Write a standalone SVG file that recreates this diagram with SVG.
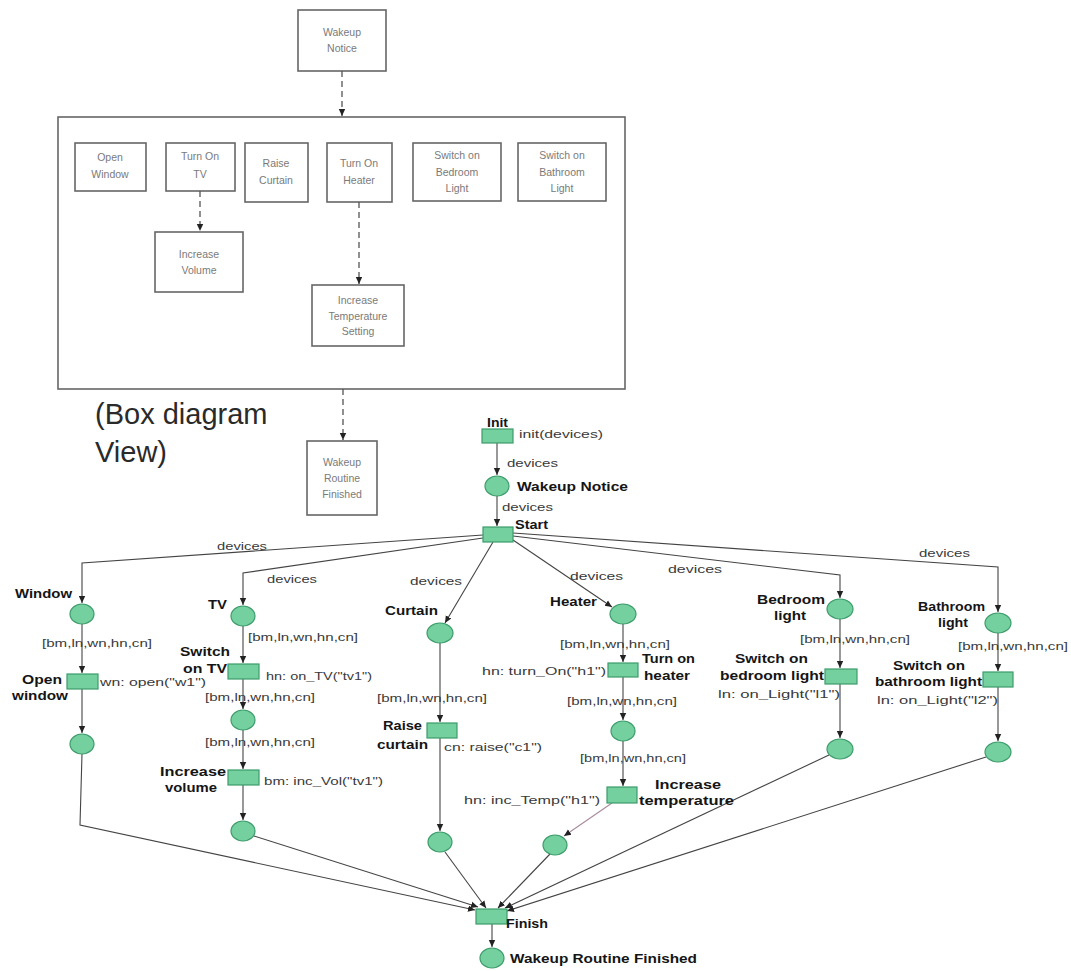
<svg xmlns="http://www.w3.org/2000/svg" width="1071" height="971" viewBox="0 0 1071 971">
<style>
.box{fill:#fff;stroke:#666;stroke-width:1.6}
.bt{font-family:"Liberation Sans",Arial,sans-serif;font-size:10.5px;fill:#7a7a7a;text-anchor:middle}
.dash{fill:none;stroke:#555;stroke-width:1.3;stroke-dasharray:6,4}
.arc{fill:none;stroke:#444;stroke-width:1.1}
.pl{fill:#74d09f;stroke:#3c9c6a;stroke-width:1.2}
.tr{fill:#74d09f;stroke:#3c9c6a;stroke-width:1.2}
.lb{font-family:"Liberation Sans",Arial,sans-serif;font-size:12px;font-weight:bold;fill:#151515}
.lt{font-family:"Liberation Sans",Arial,sans-serif;font-size:11.5px;fill:#3a3a3a}
.big{font-family:"Liberation Sans",Arial,sans-serif;font-size:29px;fill:#2a2a2a}
</style>
<defs>
<marker id="ah" markerUnits="userSpaceOnUse" markerWidth="8" markerHeight="8" refX="7" refY="4" orient="auto">
<path d="M0,0.8 L7,4 L0,7.2 Z" fill="#222"/>
</marker>
</defs>
<rect width="1071" height="971" fill="#fff"/>

<!-- Box diagram view -->
<g id="box-container"><rect class="box" x="58" y="117" width="567" height="272"/></g>
<g id="box-wakeup-notice"><rect class="box" x="298" y="10" width="88" height="61"/><text class="bt" x="342" y="36">Wakeup</text><text class="bt" x="342" y="52">Notice</text></g>
<g id="box-open-window"><rect class="box" x="75" y="143" width="71" height="48"/><text class="bt" x="110" y="161">Open</text><text class="bt" x="110" y="178">Window</text></g>
<g id="box-turn-on-tv"><rect class="box" x="166" y="143" width="69" height="48"/><text class="bt" x="200" y="160">Turn On</text><text class="bt" x="200" y="178">TV</text></g>
<g id="box-raise-curtain"><rect class="box" x="245" y="143" width="63" height="59"/><text class="bt" x="276" y="167">Raise</text><text class="bt" x="276" y="184">Curtain</text></g>
<g id="box-turn-on-heater"><rect class="box" x="327" y="143" width="65" height="59"/><text class="bt" x="359" y="167">Turn On</text><text class="bt" x="359" y="184">Heater</text></g>
<g id="box-bedroom-light"><rect class="box" x="413" y="143" width="88" height="58"/><text class="bt" x="457" y="159">Switch on</text><text class="bt" x="457" y="176">Bedroom</text><text class="bt" x="457" y="192">Light</text></g>
<g id="box-bathroom-light"><rect class="box" x="518" y="143" width="88" height="58"/><text class="bt" x="562" y="159">Switch on</text><text class="bt" x="562" y="176">Bathroom</text><text class="bt" x="562" y="192">Light</text></g>
<g id="box-increase-volume"><rect class="box" x="155" y="232" width="88" height="60"/><text class="bt" x="199" y="258">Increase</text><text class="bt" x="199" y="274">Volume</text></g>
<g id="box-increase-temp"><rect class="box" x="312" y="285" width="92" height="61"/><text class="bt" x="358" y="304">Increase</text><text class="bt" x="358" y="320">Temperature</text><text class="bt" x="358" y="335">Setting</text></g>
<g id="box-wakeup-finished"><rect class="box" x="307" y="441" width="70" height="74"/><text class="bt" x="342" y="466">Wakeup</text><text class="bt" x="342" y="482">Routine</text><text class="bt" x="342" y="498">Finished</text></g>
<g id="box-caption"><text class="big" x="95" y="424">(Box diagram</text><text class="big" x="95" y="462">View)</text></g>

<g id="box-connectors">
<path class="dash" d="M342,71 L342,116" marker-end="url(#ah)"/>
<path class="dash" d="M200,191 L200,231" marker-end="url(#ah)"/>
<path class="dash" d="M359,202 L359,284" marker-end="url(#ah)"/>
<path class="dash" d="M343,389 L343,440" marker-end="url(#ah)"/>
</g>

<!-- Petri net connectors -->
<g id="connectors">
<path class="arc" d="M497,443 L497,475" marker-end="url(#ah)"/>
<path class="arc" d="M497,496 L497,526" marker-end="url(#ah)"/>
<path class="arc" d="M483,535 L82,563 L82,603" marker-end="url(#ah)"/>
<path class="arc" d="M483,538 L243,573 L243,605" marker-end="url(#ah)"/>
<path class="arc" d="M493,542 L445,623" marker-end="url(#ah)"/>
<path class="arc" d="M513,540 L612,607" marker-end="url(#ah)"/>
<path class="arc" d="M513,536 L840,575 L840,598" marker-end="url(#ah)"/>
<path class="arc" d="M513,533 L998,567 L998,612" marker-end="url(#ah)"/>
<path class="arc" d="M82,624 L82,673" marker-end="url(#ah)"/>
<path class="arc" d="M82,689 L82,733" marker-end="url(#ah)"/>
<path class="arc" d="M82,754 L80,825 L475,910" marker-end="url(#ah)"/>
<path class="arc" d="M243,626 L243,663" marker-end="url(#ah)"/>
<path class="arc" d="M243,679 L243,709" marker-end="url(#ah)"/>
<path class="arc" d="M243,730 L243,769" marker-end="url(#ah)"/>
<path class="arc" d="M243,785 L243,820" marker-end="url(#ah)"/>
<path class="arc" d="M254,836 L478,907" marker-end="url(#ah)"/>
<path class="arc" d="M440,643 L440,722" marker-end="url(#ah)"/>
<path class="arc" d="M440,738 L440,831" marker-end="url(#ah)"/>
<path class="arc" d="M445,852 L486,908" marker-end="url(#ah)"/>
<path class="arc" d="M623,624 L623,662" marker-end="url(#ah)"/>
<path class="arc" d="M623,677 L623,720" marker-end="url(#ah)"/>
<path class="arc" d="M623,741 L623,786" marker-end="url(#ah)"/>
<path class="arc" d="M612,803 L564,836" style="stroke:#a88a9c" marker-end="url(#ah)"/>
<path class="arc" d="M550,854 L498,908" marker-end="url(#ah)"/>
<path class="arc" d="M840,619 L840,668" marker-end="url(#ah)"/>
<path class="arc" d="M840,684 L840,738" marker-end="url(#ah)"/>
<path class="arc" d="M829,755 L505,908" marker-end="url(#ah)"/>
<path class="arc" d="M998,633 L998,671" marker-end="url(#ah)"/>
<path class="arc" d="M998,687 L998,741" marker-end="url(#ah)"/>
<path class="arc" d="M986,757 L507,911" marker-end="url(#ah)"/>
<path class="arc" d="M492,924 L492,947" marker-end="url(#ah)"/>
</g>

<!-- arc labels -->
<g id="arc-labels">
<text class="lt" x="519" y="438" textLength="84" lengthAdjust="spacingAndGlyphs">init(devices)</text>
<text class="lt" x="507" y="467" textLength="51" lengthAdjust="spacingAndGlyphs">devices</text>
<text class="lt" x="502" y="511" textLength="51" lengthAdjust="spacingAndGlyphs">devices</text>
<text class="lt" x="217" y="550" textLength="50" lengthAdjust="spacingAndGlyphs">devices</text>
<text class="lt" x="267" y="583" textLength="50" lengthAdjust="spacingAndGlyphs">devices</text>
<text class="lt" x="410" y="585" textLength="52" lengthAdjust="spacingAndGlyphs">devices</text>
<text class="lt" x="570" y="580" textLength="53" lengthAdjust="spacingAndGlyphs">devices</text>
<text class="lt" x="668" y="573" textLength="54" lengthAdjust="spacingAndGlyphs">devices</text>
<text class="lt" x="919" y="557" textLength="51" lengthAdjust="spacingAndGlyphs">devices</text>
<text class="lt" x="42" y="647" textLength="110" lengthAdjust="spacingAndGlyphs">[bm,ln,wn,hn,cn]</text>
<text class="lt" x="100" y="686" textLength="106" lengthAdjust="spacingAndGlyphs">wn: open("w1")</text>
<text class="lt" x="248" y="641" textLength="110" lengthAdjust="spacingAndGlyphs">[bm,ln,wn,hn,cn]</text>
<text class="lt" x="266" y="680" textLength="106" lengthAdjust="spacingAndGlyphs">hn: on_TV("tv1")</text>
<text class="lt" x="205" y="701" textLength="110" lengthAdjust="spacingAndGlyphs">[bm,ln,wn,hn,cn]</text>
<text class="lt" x="205" y="746" textLength="110" lengthAdjust="spacingAndGlyphs">[bm,ln,wn,hn,cn]</text>
<text class="lt" x="264" y="785" textLength="119" lengthAdjust="spacingAndGlyphs">bm: inc_Vol("tv1")</text>
<text class="lt" x="377" y="702" textLength="110" lengthAdjust="spacingAndGlyphs">[bm,ln,wn,hn,cn]</text>
<text class="lt" x="444" y="751" textLength="98" lengthAdjust="spacingAndGlyphs">cn: raise("c1")</text>
<text class="lt" x="560" y="648" textLength="110" lengthAdjust="spacingAndGlyphs">[bm,ln,wn,hn,cn]</text>
<text class="lt" x="482" y="675" textLength="124" lengthAdjust="spacingAndGlyphs">hn: turn_On("h1")</text>
<text class="lt" x="567" y="705" textLength="110" lengthAdjust="spacingAndGlyphs">[bm,ln,wn,hn,cn]</text>
<text class="lt" x="580" y="762" textLength="106" lengthAdjust="spacingAndGlyphs">[bm,ln,wn,hn,cn]</text>
<text class="lt" x="464" y="804" textLength="136" lengthAdjust="spacingAndGlyphs">hn: inc_Temp("h1")</text>
<text class="lt" x="800" y="643" textLength="110" lengthAdjust="spacingAndGlyphs">[bm,ln,wn,hn,cn]</text>
<text class="lt" x="718" y="698" textLength="122" lengthAdjust="spacingAndGlyphs">ln: on_Light("l1")</text>
<text class="lt" x="958" y="650" textLength="110" lengthAdjust="spacingAndGlyphs">[bm,ln,wn,hn,cn]</text>
<text class="lt" x="877" y="704" textLength="121" lengthAdjust="spacingAndGlyphs">ln: on_Light("l2")</text>
</g>

<!-- nodes -->
<g id="t-init"><rect class="tr" x="482" y="429" width="31" height="14"/><text class="lb" x="487" y="427" textLength="21" lengthAdjust="spacingAndGlyphs">Init</text></g>
<g id="p-wakeup-notice"><ellipse class="pl" cx="497" cy="486" rx="12" ry="10"/><text class="lb" x="517" y="491" textLength="111" lengthAdjust="spacingAndGlyphs">Wakeup Notice</text></g>
<g id="t-start"><rect class="tr" x="483" y="527" width="30" height="15"/><text class="lb" x="515" y="529" textLength="33" lengthAdjust="spacingAndGlyphs">Start</text></g>

<g id="p-window"><ellipse class="pl" cx="82" cy="614" rx="12" ry="10"/><text class="lb" x="15" y="598" textLength="57" lengthAdjust="spacingAndGlyphs">Window</text></g>
<g id="t-open-window"><rect class="tr" x="67" y="674" width="31" height="15"/><text class="lb" x="22" y="684" textLength="40" lengthAdjust="spacingAndGlyphs">Open</text><text class="lb" x="12" y="700" textLength="56" lengthAdjust="spacingAndGlyphs">window</text></g>
<g id="p-window-done"><ellipse class="pl" cx="82" cy="744" rx="12" ry="10"/></g>

<g id="p-tv"><ellipse class="pl" cx="243" cy="616" rx="12" ry="10"/><text class="lb" x="208" y="609" textLength="19" lengthAdjust="spacingAndGlyphs">TV</text></g>
<g id="t-switch-tv"><rect class="tr" x="228" y="664" width="31" height="15"/><text class="lb" x="180" y="656" textLength="50" lengthAdjust="spacingAndGlyphs">Switch</text><text class="lb" x="183" y="673" textLength="44" lengthAdjust="spacingAndGlyphs">on TV</text></g>
<g id="p-tv-on"><ellipse class="pl" cx="243" cy="720" rx="12" ry="10"/></g>
<g id="t-inc-volume"><rect class="tr" x="228" y="770" width="31" height="15"/><text class="lb" x="160" y="776" textLength="66" lengthAdjust="spacingAndGlyphs">Increase</text><text class="lb" x="165" y="792" textLength="52" lengthAdjust="spacingAndGlyphs">volume</text></g>
<g id="p-tv-done"><ellipse class="pl" cx="243" cy="831" rx="12" ry="10"/></g>

<g id="p-curtain"><ellipse class="pl" cx="440" cy="633" rx="13" ry="10"/><text class="lb" x="385" y="615" textLength="53" lengthAdjust="spacingAndGlyphs">Curtain</text></g>
<g id="t-raise-curtain"><rect class="tr" x="427" y="723" width="30" height="15"/><text class="lb" x="383" y="730" textLength="39" lengthAdjust="spacingAndGlyphs">Raise</text><text class="lb" x="377" y="749" textLength="51" lengthAdjust="spacingAndGlyphs">curtain</text></g>
<g id="p-curtain-done"><ellipse class="pl" cx="440" cy="842" rx="12" ry="10"/></g>

<g id="p-heater"><ellipse class="pl" cx="623" cy="614" rx="13" ry="10"/><text class="lb" x="550" y="606" textLength="47" lengthAdjust="spacingAndGlyphs">Heater</text></g>
<g id="t-turn-on-heater"><rect class="tr" x="608" y="663" width="30" height="14"/><text class="lb" x="642" y="663" textLength="53" lengthAdjust="spacingAndGlyphs">Turn on</text><text class="lb" x="644" y="680" textLength="46" lengthAdjust="spacingAndGlyphs">heater</text></g>
<g id="p-heater-on"><ellipse class="pl" cx="623" cy="731" rx="12" ry="10"/></g>
<g id="t-inc-temp"><rect class="tr" x="607" y="787" width="30" height="16"/><text class="lb" x="655" y="789" textLength="66" lengthAdjust="spacingAndGlyphs">Increase</text><text class="lb" x="639" y="805" textLength="95" lengthAdjust="spacingAndGlyphs">temperature</text></g>
<g id="p-heater-done"><ellipse class="pl" cx="555" cy="845" rx="12" ry="10"/></g>

<g id="p-bedroom"><ellipse class="pl" cx="840" cy="609" rx="13" ry="10"/><text class="lb" x="757" y="604" textLength="68" lengthAdjust="spacingAndGlyphs">Bedroom</text><text class="lb" x="774" y="620" textLength="32" lengthAdjust="spacingAndGlyphs">light</text></g>
<g id="t-switch-bedroom"><rect class="tr" x="825" y="669" width="32" height="15"/><text class="lb" x="735" y="663" textLength="73" lengthAdjust="spacingAndGlyphs">Switch on</text><text class="lb" x="720" y="680" textLength="104" lengthAdjust="spacingAndGlyphs">bedroom light</text></g>
<g id="p-bedroom-done"><ellipse class="pl" cx="840" cy="749" rx="13" ry="10"/></g>

<g id="p-bathroom"><ellipse class="pl" cx="998" cy="623" rx="13" ry="10"/><text class="lb" x="918" y="611" textLength="67" lengthAdjust="spacingAndGlyphs">Bathroom</text><text class="lb" x="938" y="627" textLength="30" lengthAdjust="spacingAndGlyphs">light</text></g>
<g id="t-switch-bathroom"><rect class="tr" x="983" y="672" width="30" height="15"/><text class="lb" x="893" y="670" textLength="72" lengthAdjust="spacingAndGlyphs">Switch on</text><text class="lb" x="875" y="686" textLength="107" lengthAdjust="spacingAndGlyphs">bathroom light</text></g>
<g id="p-bathroom-done"><ellipse class="pl" cx="998" cy="752" rx="13" ry="10"/></g>

<g id="t-finish"><rect class="tr" x="476" y="909" width="31" height="15"/><text class="lb" x="506" y="928" textLength="42" lengthAdjust="spacingAndGlyphs">Finish</text></g>
<g id="p-wakeup-finished"><ellipse class="pl" cx="492" cy="958" rx="12" ry="10"/><text class="lb" x="510" y="963" textLength="187" lengthAdjust="spacingAndGlyphs">Wakeup Routine Finished</text></g>
</svg>
